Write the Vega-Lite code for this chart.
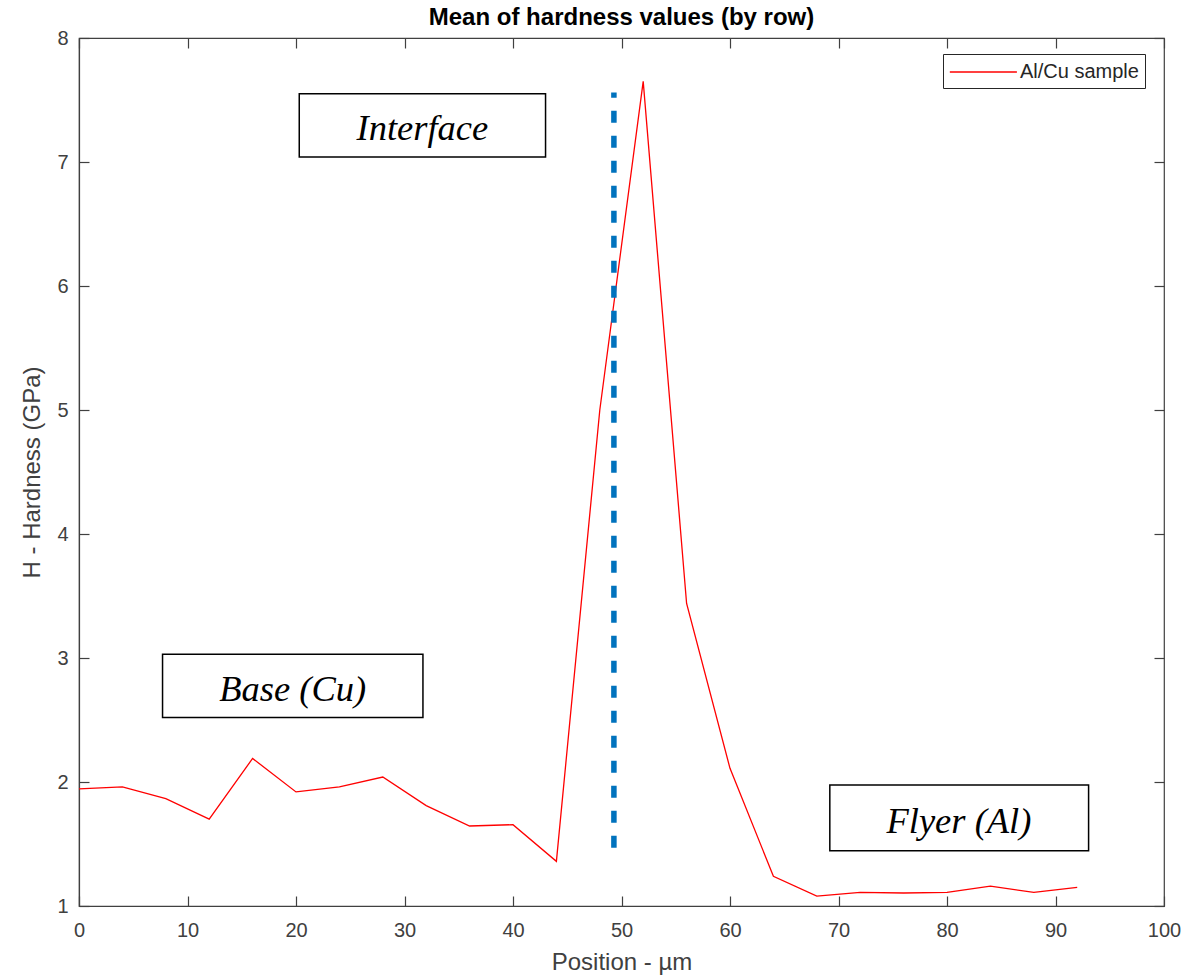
{
  "$schema": "https://vega.github.io/schema/vega-lite/v6.json",
  "width": 1085,
  "height": 868,
  "autosize": {"type": "none"},
  "padding": {"left": 79, "top": 38, "right": 34, "bottom": 72},
  "background": "#ffffff",
  "title": {"text": "Mean of hardness values (by row)", "font": "Liberation Sans", "fontSize": 24, "fontWeight": "bold", "color": "#000000", "offset": -2},
  "config": {
    "view": {"stroke": "#404040", "strokeWidth": 1.2},
    "axis": {"grid": false, "domainColor": "#404040", "tickColor": "#404040", "labelColor": "#404040", "titleColor": "#404040", "labelFont": "Liberation Sans", "titleFont": "Liberation Sans", "labelFontSize": 20, "titleFontSize": 24, "titleFontWeight": "normal", "tickSize": -10, "domainWidth": 1.2, "tickWidth": 1.2, "labelFlush": false}
  },
  "datasets": {
    "hard": [
      {"pos": 0, "h": 1.944, "series": "Al/Cu sample"},
      {"pos": 4, "h": 1.96, "series": "Al/Cu sample"},
      {"pos": 8, "h": 1.866, "series": "Al/Cu sample"},
      {"pos": 12, "h": 1.70, "series": "Al/Cu sample"},
      {"pos": 16, "h": 2.19, "series": "Al/Cu sample"},
      {"pos": 20, "h": 1.92, "series": "Al/Cu sample"},
      {"pos": 24, "h": 1.96, "series": "Al/Cu sample"},
      {"pos": 28, "h": 2.04, "series": "Al/Cu sample"},
      {"pos": 32, "h": 1.81, "series": "Al/Cu sample"},
      {"pos": 36, "h": 1.645, "series": "Al/Cu sample"},
      {"pos": 40, "h": 1.656, "series": "Al/Cu sample"},
      {"pos": 44, "h": 1.36, "series": "Al/Cu sample"},
      {"pos": 48, "h": 5.0, "series": "Al/Cu sample"},
      {"pos": 52, "h": 7.65, "series": "Al/Cu sample"},
      {"pos": 56, "h": 3.44, "series": "Al/Cu sample"},
      {"pos": 60, "h": 2.11, "series": "Al/Cu sample"},
      {"pos": 64, "h": 1.24, "series": "Al/Cu sample"},
      {"pos": 68, "h": 1.08, "series": "Al/Cu sample"},
      {"pos": 72, "h": 1.11, "series": "Al/Cu sample"},
      {"pos": 76, "h": 1.105, "series": "Al/Cu sample"},
      {"pos": 80, "h": 1.11, "series": "Al/Cu sample"},
      {"pos": 84, "h": 1.16, "series": "Al/Cu sample"},
      {"pos": 88, "h": 1.11, "series": "Al/Cu sample"},
      {"pos": 92, "h": 1.15, "series": "Al/Cu sample"}
    ],
    "boxes": [
      {"label": "Interface", "x1": 20.3, "x2": 43.0, "y1": 7.04, "y2": 7.55, "xc": 31.65, "yc": 7.295},
      {"label": "Base (Cu)", "x1": 7.7, "x2": 31.7, "y1": 2.52, "y2": 3.03, "xc": 19.7, "yc": 2.775},
      {"label": "Flyer (Al)", "x1": 69.2, "x2": 93.05, "y1": 1.446, "y2": 1.976, "xc": 81.1, "yc": 1.711}
    ],
    "iface": [
      {"pos": 49.3, "y1": 1.47, "y2": 7.56}
    ]
  },
  "resolve": {"axis": {"x": "independent", "y": "independent"}},
  "layer": [
    {
      "data": {"name": "hard"},
      "mark": {"type": "line", "color": "#ff0000", "strokeWidth": 1.3},
      "encoding": {
        "x": {"field": "pos", "type": "quantitative", "scale": {"domain": [0, 100], "nice": false, "zero": false}, "axis": {"title": "Position - µm", "values": [0,10,20,30,40,50,60,70,80,90,100], "labelPadding": 24, "titlePadding": 10}},
        "y": {"field": "h", "type": "quantitative", "scale": {"domain": [1, 8], "nice": false, "zero": false}, "axis": {"title": "H - Hardness (GPa)", "values": [1,2,3,4,5,6,7,8], "labelPadding": 21, "titlePadding": 12}},
        "color": {"field": "series", "type": "nominal", "scale": {"domain": ["Al/Cu sample"], "range": ["#ff0000"]}, "legend": {"title": null, "orient": "none", "legendX": 864, "legendY": 16, "strokeColor": "#262626", "fillColor": "#ffffff", "padding": 6, "symbolType": "M-1,0H5", "symbolSize": 500, "symbolStrokeWidth": 1.3, "labelFont": "Liberation Sans", "labelFontSize": 20, "labelColor": "#262626", "labelOffset": 47}}
      }
    },
    {
      "data": {"name": "iface"},
      "mark": {"type": "rule", "color": "#0072bd", "strokeWidth": 5.5, "strokeDash": [12, 13]},
      "encoding": {
        "x": {"field": "pos", "type": "quantitative", "axis": {"orient": "top", "labels": false, "title": null, "values": [0,10,20,30,40,50,60,70,80,90,100], "domain": false}},
        "y": {"field": "y1", "type": "quantitative", "axis": {"orient": "right", "labels": false, "title": null, "values": [1,2,3,4,5,6,7,8], "domain": false}},
        "y2": {"field": "y2"}
      }
    },
    {
      "data": {"name": "boxes"},
      "mark": {"type": "rect", "fill": "#ffffff", "stroke": "#000000", "strokeWidth": 1.5},
      "encoding": {
        "x": {"field": "x1", "type": "quantitative", "axis": null},
        "x2": {"field": "x2"},
        "y": {"field": "y1", "type": "quantitative", "axis": null},
        "y2": {"field": "y2"}
      }
    },
    {
      "data": {"name": "boxes"},
      "mark": {"type": "text", "font": "Liberation Serif", "fontStyle": "italic", "fontSize": 36.5, "color": "#000000", "align": "center", "baseline": "middle", "dy": 4},
      "encoding": {
        "x": {"field": "xc", "type": "quantitative", "axis": null},
        "y": {"field": "yc", "type": "quantitative", "axis": null},
        "text": {"field": "label"}
      }
    }
  ]
}
